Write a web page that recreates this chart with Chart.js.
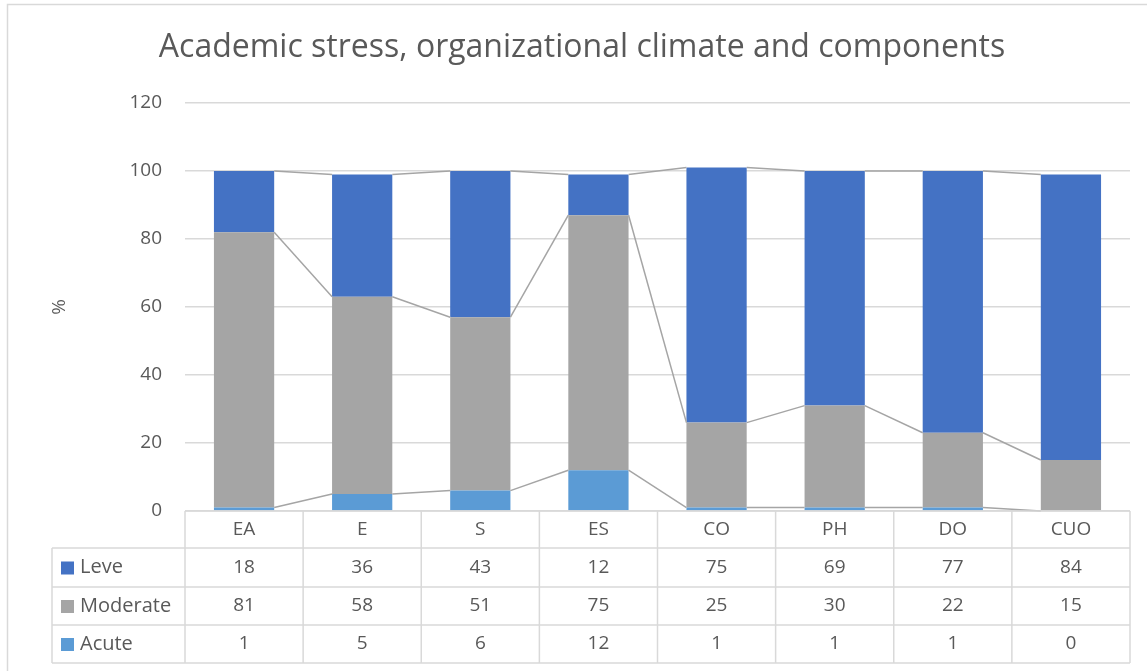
<!DOCTYPE html>
<html>
<head>
<meta charset="utf-8">
<script src="https://cdn.jsdelivr.net/npm/chart.js@4"></script>
<style>
  body { margin: 0; background: #fff; }
  #wrap { width: 1147px; height: 671px; }
</style>
</head>
<body>
<div id="wrap"><canvas id="stressChart" width="1147" height="671"></canvas></div>
<script>
// Data
const categories = ['EA', 'E', 'S', 'ES', 'CO', 'PH', 'DO', 'CUO'];
const leve = [18, 36, 43, 12, 75, 69, 77, 84];
const moderate = [81, 58, 51, 75, 25, 30, 22, 15];
const acute = [1, 5, 6, 12, 1, 1, 1, 0];
const yTicks = [0, 20, 40, 60, 80, 100, 120];

const chartTitle = 'Academic stress, organizational climate and components';
const FONT = '"Open Sans", "Noto Sans", sans-serif';
const TEXT = '#595959';
const LINE = '#d9d9d9';

// series in stacking order (bottom first), table rows top first
const series = [
    { label: 'Acute', data: acute, color: '#5B9BD5' },
    { label: 'Moderate', data: moderate, color: '#A5A5A5' },
    { label: 'Leve', data: leve, color: '#4472C4' }
];

// Excel-style series lines joining the segment tops of neighbouring bars
const seriesLines = {
    id: 'seriesLines',
    afterDatasetsDraw(chart) {
        const ctx = chart.ctx;
        ctx.save();
        ctx.strokeStyle = '#A5A5A5';
        ctx.lineWidth = 1.5;
        chart.data.datasets.forEach((ds, d) => {
            const bars = chart.getDatasetMeta(d).data;
            for (let i = 0; i < bars.length - 1; i++) {
                const a = bars[i], b = bars[i + 1];
                ctx.beginPath();
                ctx.moveTo(a.x + a.width / 2, a.y);
                ctx.lineTo(b.x - b.width / 2, b.y);
                ctx.stroke();
            }
        });
        ctx.restore();
    }
};

// data table under the plot plus the title and frame
const dataTable = {
    id: 'dataTable',
    afterDraw(chart) {
        const ctx = chart.ctx;
        const area = chart.chartArea;
        const xs = chart.scales.x;
        const colW = (area.right - area.left) / categories.length;
        const rowTops = [area.bottom, area.bottom + 37, area.bottom + 76, area.bottom + 114];
        const tableBottom = area.bottom + 152;
        const legendLeft = 52;

        ctx.save();
        // frame
        ctx.strokeStyle = LINE;
        ctx.lineWidth = 1.5;
        ctx.strokeRect(7.5, 4.5, 1147, 680);

        // title
        ctx.fillStyle = TEXT;
        ctx.font = '32px ' + FONT;
        ctx.textAlign = 'center';
        ctx.textBaseline = 'middle';
        ctx.fillText(chartTitle, 582, 48);

        // grid of the table
        ctx.strokeStyle = LINE;
        ctx.lineWidth = 1.5;
        ctx.beginPath();
        ctx.moveTo(area.left, rowTops[0]);
        ctx.lineTo(area.right, rowTops[0]);
        for (let r = 1; r < rowTops.length; r++) {
            ctx.moveTo(legendLeft, rowTops[r]);
            ctx.lineTo(area.right, rowTops[r]);
        }
        ctx.moveTo(legendLeft, tableBottom);
        ctx.lineTo(area.right, tableBottom);
        ctx.moveTo(legendLeft, rowTops[1]);
        ctx.lineTo(legendLeft, tableBottom);
        for (let i = 0; i <= categories.length; i++) {
            const x = area.left + i * colW;
            ctx.moveTo(x, rowTops[0]);
            ctx.lineTo(x, tableBottom);
        }
        ctx.stroke();

        // header and values
        ctx.font = '19px ' + FONT;
        ctx.fillStyle = TEXT;
        ctx.textAlign = 'center';
        const rows = series.slice().reverse();
        categories.forEach((c, i) => {
            const cx = xs.getPixelForValue(i);
            ctx.fillText(c, cx, (rowTops[0] + rowTops[1]) / 2);
            rows.forEach((s, r) => {
                const top = rowTops[r + 1];
                const bottom = r + 2 < rowTops.length ? rowTops[r + 2] : tableBottom;
                ctx.fillText(String(s.data[i]), cx, (top + bottom) / 2);
            });
        });

        // legend keys
        ctx.textAlign = 'left';
        ctx.font = '20px ' + FONT;
        rows.forEach((s, r) => {
            const top = rowTops[r + 1];
            const bottom = r + 2 < rowTops.length ? rowTops[r + 2] : tableBottom;
            const mid = (top + bottom) / 2;
            ctx.fillStyle = s.color;
            ctx.fillRect(61, mid - 6, 13, 13);
            ctx.fillStyle = TEXT;
            ctx.fillText(s.label, 80, mid);
        });
        ctx.restore();
    }
};

new Chart(document.getElementById('stressChart'), {
    type: 'bar',
    data: {
        labels: categories,
        datasets: series.map(s => ({
            label: s.label,
            data: s.data,
            backgroundColor: s.color,
            borderWidth: 0,
            barPercentage: 0.51,
            categoryPercentage: 1
        }))
    },
    options: {
        responsive: false,
        animation: false,
        layout: { padding: { left: 10, right: 17, top: 103, bottom: 160 } },
        plugins: {
            legend: { display: false },
            title: { display: false },
            tooltip: { enabled: false }
        },
        scales: {
            x: {
                stacked: true,
                display: false
            },
            y: {
                stacked: true,
                min: 0,
                max: 120,
                afterFit(scale) { scale.width = 175; },
                afterBuildTicks(scale) { scale.ticks = yTicks.map(v => ({ value: v })); },
                border: { display: false },
                grid: { color: LINE, lineWidth: 1.5, drawTicks: false },
                ticks: {
                    color: TEXT,
                    padding: 23,
                    font: { family: FONT, size: 19 }
                },
                title: {
                    display: true,
                    text: '%',
                    color: TEXT,
                    padding: { top: 38, bottom: 0 },
                    font: { family: FONT, size: 19 }
                }
            }
        }
    },
    plugins: [seriesLines, dataTable]
});
</script>
</body>
</html>
